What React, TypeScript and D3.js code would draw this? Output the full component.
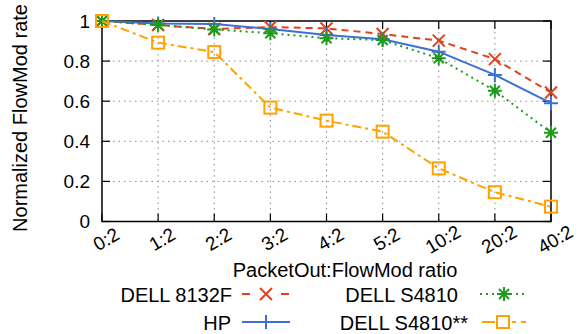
import React from "react";
import * as d3 from "d3";

const categories = ["0:2", "1:2", "2:2", "3:2", "4:2", "5:2", "10:2", "20:2", "40:2"];
const dell8132f = [1, 0.98, 0.96, 0.97, 0.963, 0.935, 0.902, 0.81, 0.643];
const hp = [1, 0.988, 0.985, 0.96, 0.93, 0.909, 0.847, 0.731, 0.59];
const dellS4810 = [1, 0.98, 0.958, 0.939, 0.914, 0.905, 0.814, 0.652, 0.443];
const dellS4810ss = [1, 0.892, 0.845, 0.568, 0.503, 0.448, 0.265, 0.146, 0.074];
const yTicks = [0, 0.2, 0.4, 0.6, 0.8, 1];
const yTickLabels = ["0", "0.2", "0.4", "0.6", "0.8", "1"];

const W = 582;
const H = 334;
const L = 102, R = 551, T = 21, B = 221.5;
const FONT = "'Liberation Sans', Arial, Helvetica, sans-serif";

type Marker = "x" | "plus" | "star" | "square";

const series = [
  { name: "DELL 8132F", values: dell8132f, color: "#e4401c", dash: "7,5", marker: "x" as Marker },
  { name: "HP", values: hp, color: "#3d6fd6", dash: "", marker: "plus" as Marker },
  { name: "DELL S4810", values: dellS4810, color: "#1f9a1f", dash: "2,4", marker: "star" as Marker },
  { name: "DELL S4810**", values: dellS4810ss, color: "#ffa200", dash: "9,4,3,4", marker: "square" as Marker },
];

function MarkerShape({ type, x, y, color }: { type: Marker; x: number; y: number; color: string }) {
  const sw = 2;
  if (type === "x") {
    const s = 6;
    return (
      <path d={`M${x - s},${y - s}L${x + s},${y + s}M${x - s},${y + s}L${x + s},${y - s}`} stroke={color} strokeWidth={sw} fill="none" />
    );
  }
  if (type === "plus") {
    const s = 7;
    return <path d={`M${x - s},${y}L${x + s},${y}M${x},${y - s}L${x},${y + s}`} stroke={color} strokeWidth={sw} fill="none" />;
  }
  if (type === "star") {
    const s = 7, d = 5;
    return (
      <path
        d={`M${x - s},${y}L${x + s},${y}M${x},${y - s}L${x},${y + s}M${x - d},${y - d}L${x + d},${y + d}M${x - d},${y + d}L${x + d},${y - d}`}
        stroke={color}
        strokeWidth={sw}
        fill="none"
      />
    );
  }
  const s = 6;
  return <rect x={x - s} y={y - s} width={2 * s} height={2 * s} stroke={color} strokeWidth={sw} fill="none" />;
}

export default function App() {
  const x = d3.scalePoint<string>().domain(categories).range([L, R]);
  const y = d3.scaleLinear().domain([0, 1]).range([B, T]);
  const line = d3
    .line<number>()
    .x((_, i) => x(categories[i]) as number)
    .y((v) => y(v));

  const legend = [
    { s: series[0], tx: 232, ty: 295, lx1: 242, lx2: 289, mx: 266, dash: "8,31,8" },
    { s: series[1], tx: 231, ty: 323, lx1: 242, lx2: 290, mx: 266, dash: "" },
    { s: series[2], tx: 458, ty: 295, lx1: 480, lx2: 528, mx: 504, dash: "2,4" },
    { s: series[3], tx: 468, ty: 323, lx1: 482, lx2: 529, mx: 503, dash: "13,17,4,5,5" },
  ];

  return (
    <svg width={W} height={H} style={{ position: "absolute", left: 0, top: 0, background: "#fff" }} fontFamily={FONT}>
      {/* grid */}
      <g stroke="#888" strokeWidth={1} strokeDasharray="1.5,4">
        {categories.slice(1, -1).map((c) => (
          <line key={c} x1={x(c)} x2={x(c)} y1={T} y2={B} />
        ))}
        {yTicks.slice(1, -1).map((v) => (
          <line key={v} x1={L} x2={R} y1={y(v)} y2={y(v)} />
        ))}
      </g>
      {/* ticks */}
      <g stroke="#000" strokeWidth={1.2}>
        {categories.map((c) => (
          <g key={c}>
            <line x1={x(c)} x2={x(c)} y1={B} y2={B - 8} />
            <line x1={x(c)} x2={x(c)} y1={T} y2={T + 8} />
          </g>
        ))}
        {yTicks.map((v) => (
          <g key={v}>
            <line x1={L} x2={L + 8} y1={y(v)} y2={y(v)} />
            <line x1={R} x2={R - 8} y1={y(v)} y2={y(v)} />
          </g>
        ))}
      </g>
      <rect x={L} y={T} width={R - L} height={B - T} fill="none" stroke="#000" strokeWidth={1.5} />
      {/* tick labels */}
      <g fontSize={19} fill="#000">
        {yTicks.map((v, i) => (
          <text key={v} x={90} y={y(v)} dy="0.36em" textAnchor="end">
            {yTickLabels[i]}
          </text>
        ))}
        {categories.map((c) => (
          <text key={c} transform={`translate(${(x(c) as number) + 4},${239}) rotate(-30)`} textAnchor="middle" dy="0.36em">
            {c}
          </text>
        ))}
      </g>
      {/* series */}
      {series.map((s) => (
        <g key={s.name}>
          <path d={line(s.values) || ""} fill="none" stroke={s.color} strokeWidth={2} strokeDasharray={s.dash || undefined} />
          {s.values.map((v, i) => (
            <MarkerShape key={i} type={s.marker} x={x(categories[i]) as number} y={y(v)} color={s.color} />
          ))}
        </g>
      ))}
      {/* axis titles */}
      <text x={345} y={270} dy="0.36em" textAnchor="middle" fontSize={20}>
        PacketOut:FlowMod ratio
      </text>
      <text transform={`translate(27,118) rotate(-90)`} textAnchor="middle" fontSize={20}>
        Normalized FlowMod rate
      </text>
      {/* legend */}
      {legend.map((l) => (
        <g key={l.s.name}>
          <text x={l.tx} y={l.ty} dy="0.36em" textAnchor="end" fontSize={20}>
            {l.s.name}
          </text>
          <line x1={l.lx1} x2={l.lx2} y1={l.ty - 1} y2={l.ty - 1} stroke={l.s.color} strokeWidth={2} strokeDasharray={l.dash || undefined} />
          <MarkerShape type={l.s.marker} x={l.mx} y={l.ty - 1} color={l.s.color} />
        </g>
      ))}
    </svg>
  );
}
